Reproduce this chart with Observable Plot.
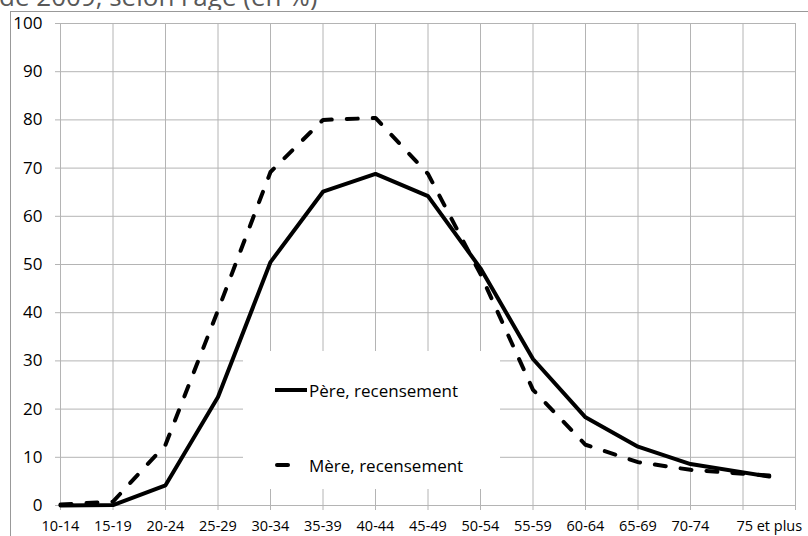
<!DOCTYPE html>
<html>
<head>
<meta charset="utf-8">
<script src="https://cdn.jsdelivr.net/npm/d3@7"></script>
<script src="https://cdn.jsdelivr.net/npm/@observablehq/plot@0.6"></script>
<style>
  body { margin: 0; background: #fff; }
  #wrap { position: relative; width: 808px; height: 536px; overflow: hidden; background: #fff; }
  #frame { position: absolute; left: 10px; top: 11px; width: 830px; height: 560px; border: 1px solid #999; box-sizing: border-box; }
  #titlebox { position: absolute; left: 0; top: 0; width: 400px; height: 10px; overflow: hidden; }
  #title { position: absolute; left: -1px; top: -17px; font-family: "Open Sans", sans-serif; font-size: 26px; line-height: 26px; color: #595959; white-space: nowrap; }
  #chart { position: absolute; left: 0; top: 0; }
  #legend { position: absolute; left: 243px; top: 351px; width: 257px; height: 138px; background: #fff; font-family: "Open Sans", sans-serif; font-size: 17px; color: #000; }
  .item { position: absolute; left: 0; height: 24px; display: flex; align-items: center; }
  .item svg { margin-left: 31px; }
  .item span { position: absolute; left: 66px; white-space: nowrap; }
</style>
</head>
<body>
<div id="wrap">
  <div id="frame"></div>
  <div id="chart"></div>
  <div id="titlebox"><div id="title">de 2009, selon l'âge (en %)</div></div>
  <div id="legend">
    <div class="item" style="top:27px"><svg width="34" height="10"><line x1="1" y1="5" x2="33" y2="5" stroke="#000" stroke-width="4"/></svg><span>Père, recensement</span></div>
    <div class="item" style="top:102px"><svg width="34" height="10"><line x1="3" y1="5" x2="14" y2="5" stroke="#000" stroke-width="4" stroke-linecap="round"/></svg><span>Mère, recensement</span></div>
  </div>
</div>
<script>
// Age groups (categories)
const ageGroups = ["10-14", "15-19", "20-24", "25-29", "30-34", "35-39", "40-44", "45-49", "50-54", "55-59", "60-64", "65-69", "70-74", "75 et plus"];
// Representative age of each group (used for the x position)
const ageMid = [12, 17, 22, 27, 32, 37, 42, 47, 52, 57, 62, 67, 72, 79.5];
// Père, recensement (%)
const pere = [0, 0.1, 4.2, 22.5, 50.5, 65.1, 68.8, 64.2, 49.2, 30.4, 18.3, 12.2, 8.6, 6.0];
// Mère, recensement (%)
const mere = [0.2, 0.8, 12.6, 40.5, 69.2, 80.0, 80.4, 68.8, 48.0, 24.0, 12.6, 9.0, 7.4, 6.2];
// Y ticks
const yTicks = [0, 10, 20, 30, 40, 50, 60, 70, 80, 90, 100];
// X gridlines (age)
const xGrid = [12, 17, 22, 27, 32, 37, 42, 47, 52, 57, 62, 67, 72, 77, 82];

const rows = ageGroups.map((g, i) => ({age: g, mid: ageMid[i], pere: pere[i], mere: mere[i]}));
const gridColor = "#b4b4b4";

const chart = Plot.plot({
  width: 808,
  height: 536,
  marginLeft: 60,
  marginRight: 13,
  marginTop: 23,
  marginBottom: 31,
  x: {domain: [12, 82]},
  y: {domain: [0, 100]},
  style: {background: "transparent", color: "#000", fontFamily: "'Open Sans', sans-serif"},
  marks: [
    Plot.ruleX(xGrid, {stroke: gridColor, strokeWidth: 1, strokeOpacity: 1}),
    Plot.ruleY(yTicks, {stroke: gridColor, strokeWidth: 1, strokeOpacity: 1}),
    Plot.axisY({ticks: yTicks, tickSize: 5, tickPadding: 13, fontSize: 17, stroke: gridColor, strokeOpacity: 1, label: null, tickFormat: d => String(d)}),
    Plot.axisX({ticks: xGrid, tickSize: 5, stroke: gridColor, strokeOpacity: 1, tickFormat: () => "", label: null}),
    Plot.axisX({ticks: ageMid, tickSize: 0, tickPadding: 15, fontSize: 14.5, fontFamily: "'Liberation Sans Narrow', 'Open Sans', sans-serif", label: null,
      tickFormat: d => ageGroups[ageMid.indexOf(d)]}),
    Plot.line(rows, {x: "mid", y: "mere", stroke: "#000", strokeWidth: 4, strokeDasharray: "11,15", strokeLinecap: "round", strokeLinejoin: "round"}),
    Plot.line(rows, {x: "mid", y: "pere", stroke: "#000", strokeWidth: 4, strokeLinejoin: "round"})
  ]
});
document.getElementById("chart").appendChild(chart);
</script>
</body>
</html>
